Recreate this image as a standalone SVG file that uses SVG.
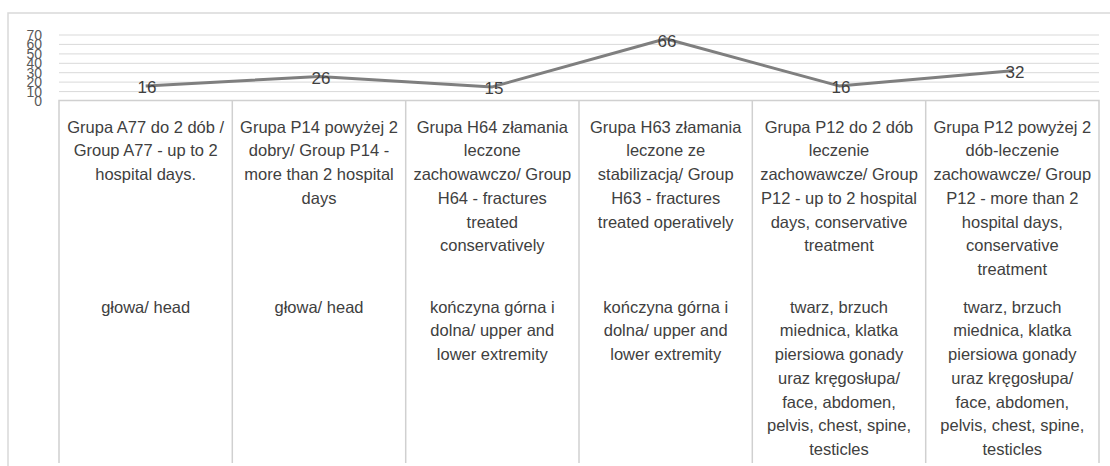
<svg xmlns="http://www.w3.org/2000/svg" width="1110" height="466" viewBox="0 0 1110 466">
<style>
.frame{fill:none;stroke:#d9d9d9;stroke-width:1.5}
.grid{stroke:#d9d9d9;stroke-width:1}
.tbl{stroke:#d0d0d0;stroke-width:1.5;fill:none}
.ax{font-family:"Liberation Sans",Arial,sans-serif;font-size:14px;fill:#595959;text-anchor:end}
.dl{font-family:"Liberation Sans",Arial,sans-serif;font-size:17px;fill:#404040;text-anchor:middle}
.ct{font-family:"Liberation Sans",Arial,sans-serif;font-size:16.5px;fill:#404040;text-anchor:middle}
.series{fill:none;stroke:#7f7f7f;stroke-width:3;stroke-linejoin:round}
</style>
<rect width="1110" height="466" fill="#ffffff"/>
<g id="frame">
<path class="frame" d="M8,470 V13 H1115"/>
</g>
<g id="gridlines">
<line class="grid" x1="59" y1="35" x2="1099" y2="35"/>
<line class="grid" x1="59" y1="44.4" x2="1099" y2="44.4"/>
<line class="grid" x1="59" y1="53.9" x2="1099" y2="53.9"/>
<line class="grid" x1="59" y1="63.3" x2="1099" y2="63.3"/>
<line class="grid" x1="59" y1="72.7" x2="1099" y2="72.7"/>
<line class="grid" x1="59" y1="82.1" x2="1099" y2="82.1"/>
<line class="grid" x1="59" y1="91.6" x2="1099" y2="91.6"/>
</g>
<g id="yaxis">
<text class="ax" x="42" y="40">70</text>
<text class="ax" x="42" y="49.4">60</text>
<text class="ax" x="42" y="58.9">50</text>
<text class="ax" x="42" y="68.3">40</text>
<text class="ax" x="42" y="77.7">30</text>
<text class="ax" x="42" y="87.1">20</text>
<text class="ax" x="42" y="96.6">10</text>
<text class="ax" x="42" y="106">0</text>
</g>
<g id="table">
<path class="tbl" d="M59,463 V100.5 H1099 V463"/>
<line class="tbl" x1="232.3" y1="100.5" x2="232.3" y2="463"/>
<line class="tbl" x1="405.7" y1="100.5" x2="405.7" y2="463"/>
<line class="tbl" x1="579" y1="100.5" x2="579" y2="463"/>
<line class="tbl" x1="752.3" y1="100.5" x2="752.3" y2="463"/>
<line class="tbl" x1="925.7" y1="100.5" x2="925.7" y2="463"/>
</g>
<g id="connectors">
<polyline class="series" points="145.7,85.9 319,76.5 492.3,86.9 665.7,38.8 839,85.9 1012.3,70.8"/>
</g>
<g id="labels">
<text class="dl" x="147" y="93">16</text>
<text class="dl" x="321" y="83.5">26</text>
<text class="dl" x="494" y="93.5">15</text>
<text class="dl" x="667" y="46.5">66</text>
<text class="dl" x="841" y="93">16</text>
<text class="dl" x="1015" y="78">32</text>
</g>
<g id="col1">
<text class="ct" x="145.7" y="132.5">Grupa A77 do 2 dób /</text>
<text class="ct" x="145.7" y="156.3">Group A77 - up to 2</text>
<text class="ct" x="145.7" y="180">hospital days.</text>
<text class="ct" x="145.7" y="312.5">głowa/ head</text>
</g>
<g id="col2">
<text class="ct" x="319" y="132.5">Grupa P14 powyżej 2</text>
<text class="ct" x="319" y="156.3">dobry/ Group P14 -</text>
<text class="ct" x="319" y="180">more than 2 hospital</text>
<text class="ct" x="319" y="203.8">days</text>
<text class="ct" x="319" y="312.5">głowa/ head</text>
</g>
<g id="col3">
<text class="ct" x="492.3" y="132.5">Grupa H64 złamania</text>
<text class="ct" x="492.3" y="156.3">leczone</text>
<text class="ct" x="492.3" y="180">zachowawczo/ Group</text>
<text class="ct" x="492.3" y="203.8">H64 - fractures</text>
<text class="ct" x="492.3" y="227.6">treated</text>
<text class="ct" x="492.3" y="251.4">conservatively</text>
<text class="ct" x="492.3" y="312.5">kończyna górna i</text>
<text class="ct" x="492.3" y="336.3">dolna/ upper and</text>
<text class="ct" x="492.3" y="360">lower extremity</text>
</g>
<g id="col4">
<text class="ct" x="665.7" y="132.5">Grupa H63 złamania</text>
<text class="ct" x="665.7" y="156.3">leczone ze</text>
<text class="ct" x="665.7" y="180">stabilizacją/ Group</text>
<text class="ct" x="665.7" y="203.8">H63 - fractures</text>
<text class="ct" x="665.7" y="227.6">treated operatively</text>
<text class="ct" x="665.7" y="312.5">kończyna górna i</text>
<text class="ct" x="665.7" y="336.3">dolna/ upper and</text>
<text class="ct" x="665.7" y="360">lower extremity</text>
</g>
<g id="col5">
<text class="ct" x="839" y="132.5">Grupa P12 do 2 dób</text>
<text class="ct" x="839" y="156.3">leczenie</text>
<text class="ct" x="839" y="180">zachowawcze/ Group</text>
<text class="ct" x="839" y="203.8">P12  - up to 2 hospital</text>
<text class="ct" x="839" y="227.6">days, conservative</text>
<text class="ct" x="839" y="251.4">treatment</text>
<text class="ct" x="839" y="312.5">twarz, brzuch</text>
<text class="ct" x="839" y="336.3">miednica, klatka</text>
<text class="ct" x="839" y="360">piersiowa gonady</text>
<text class="ct" x="839" y="383.8">uraz kręgosłupa/</text>
<text class="ct" x="839" y="407.6">face, abdomen,</text>
<text class="ct" x="839" y="431.4">pelvis, chest, spine,</text>
<text class="ct" x="839" y="455.2">testicles</text>
</g>
<g id="col6">
<text class="ct" x="1012.3" y="132.5">Grupa P12 powyżej 2</text>
<text class="ct" x="1012.3" y="156.3">dób-leczenie</text>
<text class="ct" x="1012.3" y="180">zachowawcze/ Group</text>
<text class="ct" x="1012.3" y="203.8">P12 - more than 2</text>
<text class="ct" x="1012.3" y="227.6">hospital days,</text>
<text class="ct" x="1012.3" y="251.4">conservative</text>
<text class="ct" x="1012.3" y="275.2">treatment</text>
<text class="ct" x="1012.3" y="312.5">twarz, brzuch</text>
<text class="ct" x="1012.3" y="336.3">miednica, klatka</text>
<text class="ct" x="1012.3" y="360">piersiowa gonady</text>
<text class="ct" x="1012.3" y="383.8">uraz kręgosłupa/</text>
<text class="ct" x="1012.3" y="407.6">face, abdomen,</text>
<text class="ct" x="1012.3" y="431.4">pelvis, chest, spine,</text>
<text class="ct" x="1012.3" y="455.2">testicles</text>
</g>
</svg>
